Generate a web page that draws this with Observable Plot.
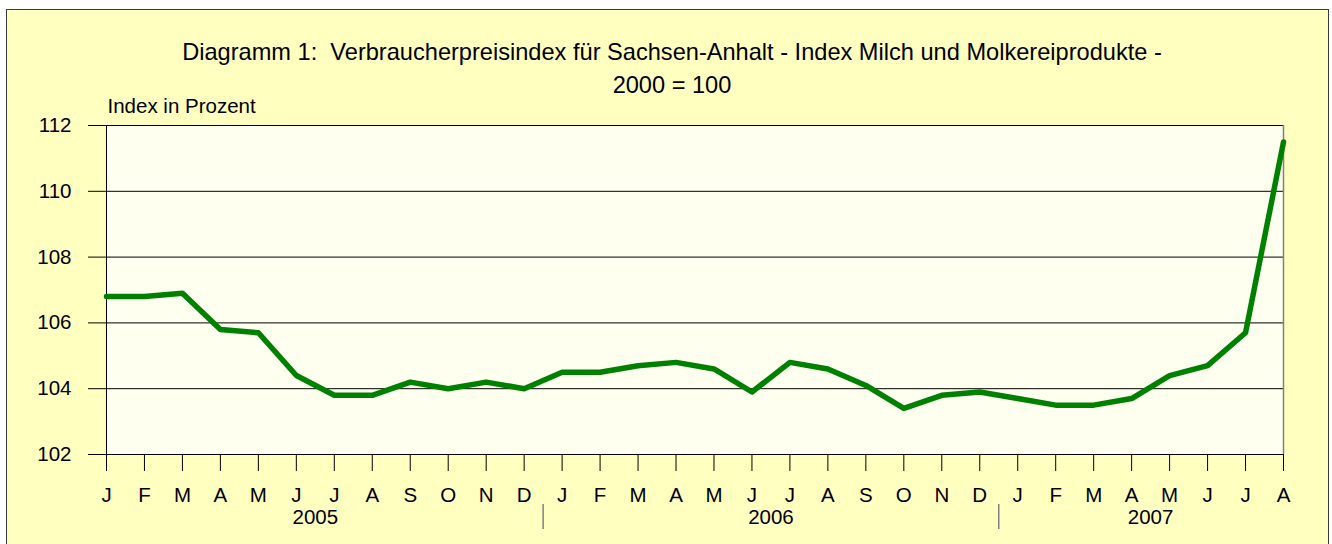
<!DOCTYPE html>
<html>
<head>
<meta charset="utf-8">
<script src="https://cdn.jsdelivr.net/npm/d3@7"></script>
<script src="https://cdn.jsdelivr.net/npm/@observablehq/plot@0.6"></script>
<style>
  html, body { margin: 0; padding: 0; overflow: hidden; width: 1332px; height: 544px; background: #ffffff; }
  #frame { position: absolute; left: 5.5px; top: 8.5px; width: 1323px; height: 600px; box-sizing: border-box;
           border: 1.5px solid #3a3a3a; background: #FFFFC0; }
  .tline { position: absolute; left: 0; width: 1344px; text-align: center; white-space: pre;
           font-family: "Liberation Sans", Arial, sans-serif; font-size: 23.6px; line-height: 23.6px; color: #000; }
  #t1 { top: 41.4px; }
  #t2 { top: 74.4px; }
  #chart { position: absolute; left: 0; top: 0; }
</style>
</head>
<body>
<div id="frame"></div>
<div class="tline" id="t1"><span>Diagramm 1:  Verbraucherpreisindex für Sachsen-Anhalt - Index Milch und Molkereiprodukte -</span></div>
<div class="tline" id="t2"><span>2000 = 100</span></div>
<div id="chart"></div>
<script>
const years = ["2005", "2006", "2007"];
const monthLetters = ["J", "F", "M", "A", "M", "J", "J", "A", "S", "O", "N", "D"];
const values2005 = [106.8, 106.8, 106.9, 105.8, 105.7, 104.4, 103.8, 103.8, 104.2, 104.0, 104.2, 104.0];
const values2006 = [104.5, 104.5, 104.7, 104.8, 104.6, 103.9, 104.8, 104.6, 104.1, 103.4, 103.8, 103.9];
const values2007 = [103.7, 103.5, 103.5, 103.7, 104.4, 104.7, 105.7, 111.5];
const yTicks = [102, 104, 106, 108, 110, 112];
const yAxisLabel = "Index in Prozent";

const seriesByYear = [values2005, values2006, values2007];
const rows = [];
const yearLabels = [];
const separators = [];
let idx = 0;
seriesByYear.forEach((vals, k) => {
  const first = idx;
  vals.forEach((v, j) => rows.push({i: idx++, month: monthLetters[j], year: years[k], value: v}));
  const last = idx - 1;
  yearLabels.push({x: (first + last) / 2, year: years[k]});
  if (k < seriesByYear.length - 1) separators.push(last + 0.5);
});
const indices = rows.map(d => d.i);

const chart = Plot.plot({
  width: 1332,
  height: 544,
  marginLeft: 106,
  marginRight: 49,
  marginTop: 125,
  marginBottom: 90,
  x: {domain: [0, indices.length - 1], axis: null},
  y: {domain: [102, 112], axis: null},
  style: {background: "transparent", fontFamily: "'Liberation Sans', Arial, sans-serif", fontSize: "20.5px", color: "#000", overflow: "visible"},
  marks: [
    Plot.frame({fill: "#FFFFF0", stroke: null}),
    Plot.gridY(yTicks, {stroke: "#000", strokeOpacity: 1, strokeWidth: 1}),
    Plot.axisY(yTicks, {tickSize: 18, tickPadding: 17, label: null, stroke: "#000"}),
    Plot.ruleX([indices.length - 1], {stroke: "#808080", strokeWidth: 1.5}),
    Plot.ruleX([0], {stroke: "#000", strokeWidth: 1}),
    Plot.axisX(indices, {tickSize: 17, tickPadding: 15.5, tickFormat: i => rows[i].month, label: null, stroke: "#000"}),
    Plot.line(rows, {x: "i", y: "value", stroke: "#008000", strokeWidth: 5.5, strokeLinejoin: "round"}),
    Plot.text(yearLabels, {x: "x", text: "year", frameAnchor: "bottom", lineAnchor: "middle", dy: 63}),
    Plot.ruleX(separators, {x: d => d, stroke: "#808080", strokeWidth: 1.5, dy: 75, insetTop: 304}),
    Plot.text([yAxisLabel], {frameAnchor: "top-left", textAnchor: "start", lineAnchor: "middle", dx: 1, dy: -19.5})
  ]
});
document.getElementById("chart").appendChild(chart);
</script>
</body>
</html>
